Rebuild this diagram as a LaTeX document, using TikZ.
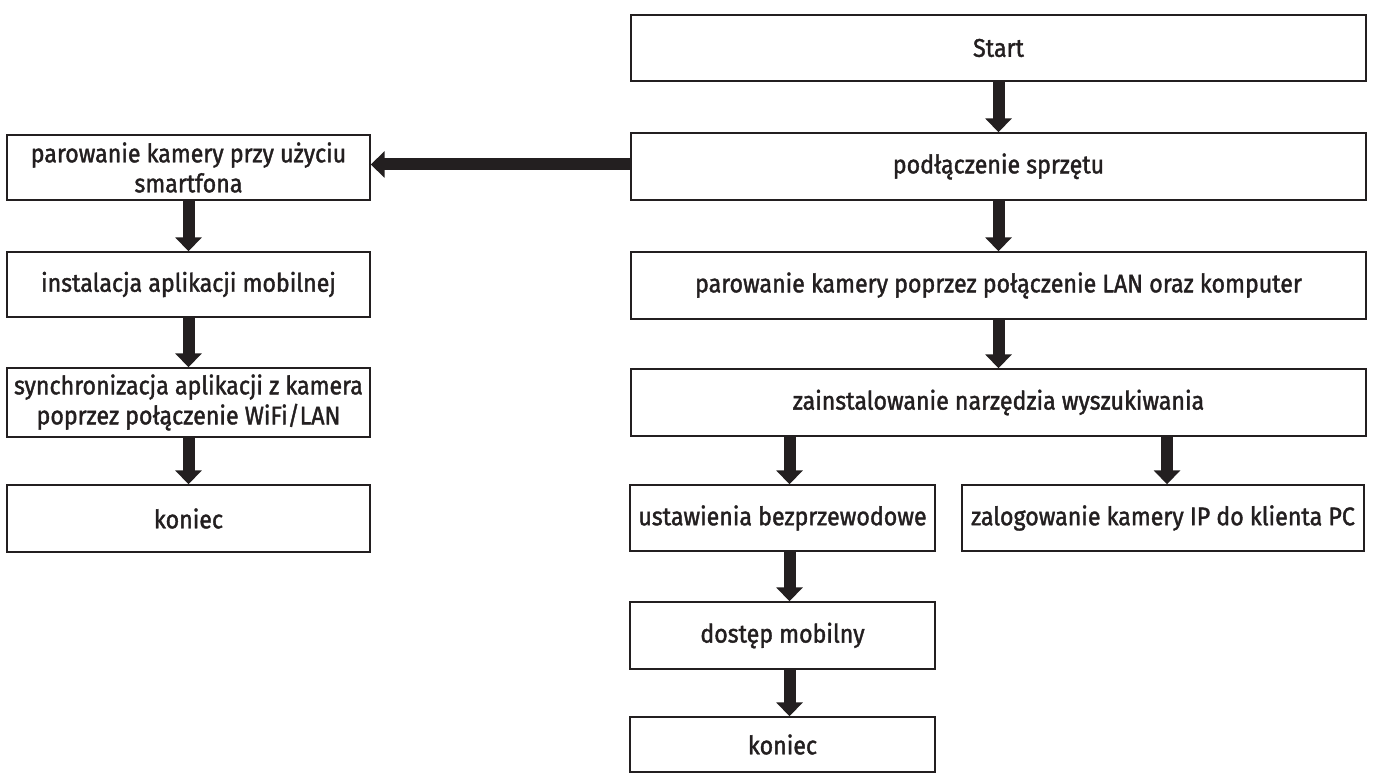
\documentclass[tikz,border=0pt]{standalone}
\usepackage{fontspec}
\setmainfont{Fira Sans}[FakeStretch=0.91, FakeBold=1.5]
\usetikzlibrary{arrows.meta}
\definecolor{ink}{HTML}{231F20}
\begin{document}
\begin{tikzpicture}[x=1pt,y=-1pt,
  box/.style={draw=ink, line width=1.4pt, fill=white, inner sep=0pt, align=center,
    font=\fontsize{25.5}{30}\selectfont, text=ink},
  arr/.style={draw=ink, line width=12pt, -{Triangle[width=26pt,length=14pt]}}]
\useasboundingbox[fill=white] (0,0) rectangle (1375,775);
% right column
\node[box, minimum width=735pt, minimum height=66pt] (start) at (998.5,48) {Start};
\node[box, minimum width=735pt, minimum height=67pt] (pod) at (998.5,166.5) {podłączenie sprzętu};
\node[box, minimum width=735pt, minimum height=67pt] (lan) at (998.5,285.5) {parowanie kamery poprzez połączenie LAN oraz komputer};
\node[box, minimum width=735pt, minimum height=67pt] (zain) at (998.5,402.5) {zainstalowanie narzędzia wyszukiwania};
\node[box, minimum width=305pt, minimum height=66pt] (ust) at (782.5,518) {ustawienia bezprzewodowe};
\node[box, minimum width=402pt, minimum height=66pt] (zal) at (1163,518) {zalogowanie kamery IP do klienta PC};
\node[box, minimum width=305pt, minimum height=67pt] (dost) at (782.5,635.5) {dostęp mobilny};
\node[box, minimum width=305pt, minimum height=55pt] (kon2) at (782.5,744.5) {koniec};
% left column
\node[box, minimum width=363pt, minimum height=65pt] (sp) at (188.5,167.5) {parowanie kamery przy użyciu\\smartfona};
\node[box, minimum width=363pt, minimum height=65pt] (inst) at (188.5,284.5) {instalacja aplikacji mobilnej};
\node[box, minimum width=363pt, minimum height=69pt] (sync) at (188.5,402.5) {synchronizacja aplikacji z kamera\\poprzez połączenie WiFi/LAN};
\node[box, minimum width=363pt, minimum height=67pt] (kon1) at (188.5,518.5) {koniec};
% arrows
\draw[arr] (start.south) -- (pod.north);
\draw[arr] (pod.south) -- (lan.north);
\draw[arr] (lan.south) -- (zain.north);
\draw[arr] ([xshift=7pt]ust.north |- zain.south) -- ([xshift=7pt]ust.north);
\draw[arr] ([xshift=4pt]zal.north |- zain.south) -- ([xshift=4pt]zal.north);
\draw[arr] ([xshift=7pt]ust.south) -- ([xshift=7pt]dost.north);
\draw[arr] ([xshift=7pt]dost.south) -- ([xshift=7pt]kon2.north);
\draw[arr] ([yshift=2pt]pod.west) -- ([yshift=2pt]sp.east |- pod.west);
\draw[arr] (sp.south) -- (inst.north);
\draw[arr] (inst.south) -- (sync.north);
\draw[arr] (sync.south) -- (kon1.north);
\end{tikzpicture}
\end{document}
